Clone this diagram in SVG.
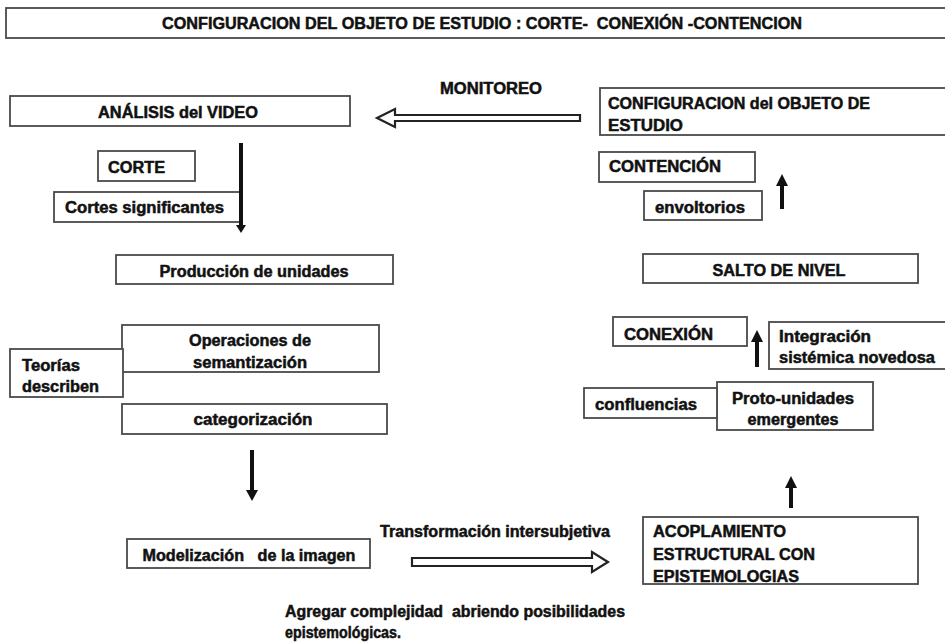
<svg xmlns="http://www.w3.org/2000/svg" width="945" height="644" viewBox="0 0 945 644">
<style>
.b{fill:#fff;stroke:#4a4a4a;stroke-width:1.8}
.t{font-family:"Liberation Sans",Arial,sans-serif;font-weight:bold;font-size:16px;fill:#111;stroke:#111;stroke-width:0.5;white-space:pre}
.c{text-anchor:middle}
.ln{stroke:#111;stroke-width:4;fill:none}
.h{fill:#111;stroke:none}
.ha{fill:#fff;stroke:#222;stroke-width:2.2;stroke-linejoin:miter}
</style>
<rect width="945" height="644" fill="#fff"/>
<g id="title">
<rect class="b" x="6" y="8" width="945" height="30"/>
<text class="t c" x="482" y="29" textLength="640" lengthAdjust="spacingAndGlyphs">CONFIGURACION DEL OBJETO DE ESTUDIO : CORTE-  CONEXIÓN -CONTENCION</text>
</g>
<g id="analisis">
<rect class="b" x="10" y="96" width="340" height="30"/>
<text class="t c" x="178" y="118" textLength="160" lengthAdjust="spacingAndGlyphs">ANÁLISIS del VIDEO</text>
</g>
<g id="corte">
<rect class="b" x="98" y="151" width="97" height="30"/>
<text class="t" x="108" y="173" textLength="57" lengthAdjust="spacingAndGlyphs">CORTE</text>
</g>
<g id="cortes">
<rect class="b" x="54" y="192" width="186" height="30"/>
<text class="t" x="65" y="213" textLength="159" lengthAdjust="spacingAndGlyphs">Cortes significantes</text>
</g>
<g id="produccion">
<rect class="b" x="116" y="255" width="277" height="29"/>
<text class="t c" x="254" y="277" textLength="189" lengthAdjust="spacingAndGlyphs">Producción de unidades</text>
</g>
<g id="operaciones">
<rect class="b" x="122" y="325" width="257" height="47"/>
<text class="t c" x="250" y="346" textLength="122" lengthAdjust="spacingAndGlyphs">Operaciones de</text>
<text class="t c" x="250" y="368" textLength="114" lengthAdjust="spacingAndGlyphs">semantización</text>
</g>
<g id="teorias">
<rect class="b" x="10" y="349" width="113" height="48"/>
<text class="t" x="22" y="371" textLength="58" lengthAdjust="spacingAndGlyphs">Teorías</text>
<text class="t" x="22" y="392" textLength="77" lengthAdjust="spacingAndGlyphs">describen</text>
</g>
<g id="categorizacion">
<rect class="b" x="122" y="404" width="265" height="30"/>
<text class="t c" x="253" y="425" textLength="119" lengthAdjust="spacingAndGlyphs">categorización</text>
</g>
<g id="modelizacion">
<rect class="b" x="127" y="539" width="243" height="29"/>
<text class="t c" x="249" y="561" textLength="213" lengthAdjust="spacingAndGlyphs">Modelización   de la imagen</text>
</g>
<g id="acoplamiento">
<rect class="b" x="643" y="517" width="275" height="67"/>
<text class="t" x="653" y="537" textLength="133" lengthAdjust="spacingAndGlyphs">ACOPLAMIENTO</text>
<text class="t" x="653" y="560" textLength="162" lengthAdjust="spacingAndGlyphs">ESTRUCTURAL CON</text>
<text class="t" x="653" y="582" textLength="146" lengthAdjust="spacingAndGlyphs">EPISTEMOLOGIAS</text>
</g>
<g id="proto">
<rect class="b" x="717" y="382" width="156" height="48"/>
<text class="t c" x="793" y="404" textLength="122" lengthAdjust="spacingAndGlyphs">Proto-unidades</text>
<text class="t c" x="793" y="425" textLength="91" lengthAdjust="spacingAndGlyphs">emergentes</text>
</g>
<g id="confluencias">
<rect class="b" x="584" y="388" width="133" height="30"/>
<text class="t" x="595" y="410" textLength="102" lengthAdjust="spacingAndGlyphs">confluencias</text>
</g>
<g id="conexion">
<rect class="b" x="613" y="317" width="134" height="29"/>
<text class="t" x="624" y="340" textLength="89" lengthAdjust="spacingAndGlyphs">CONEXIÓN</text>
</g>
<g id="integracion">
<rect class="b" x="769" y="322" width="190" height="47"/>
<text class="t" x="779" y="342" textLength="92" lengthAdjust="spacingAndGlyphs">Integración</text>
<text class="t" x="779" y="363" textLength="156" lengthAdjust="spacingAndGlyphs">sistémica novedosa</text>
</g>
<g id="salto">
<rect class="b" x="643" y="254" width="275" height="29"/>
<text class="t c" x="779" y="276" textLength="133" lengthAdjust="spacingAndGlyphs">SALTO DE NIVEL</text>
</g>
<g id="contencion">
<rect class="b" x="599" y="152" width="156" height="30"/>
<text class="t" x="609" y="172" textLength="112" lengthAdjust="spacingAndGlyphs">CONTENCIÓN</text>
</g>
<g id="envoltorios">
<rect class="b" x="644" y="191" width="118" height="29"/>
<text class="t" x="655" y="213" textLength="90" lengthAdjust="spacingAndGlyphs">envoltorios</text>
</g>
<g id="configuracion">
<rect class="b" x="600" y="88" width="360" height="47"/>
<text class="t" x="608" y="109" textLength="262" lengthAdjust="spacingAndGlyphs">CONFIGURACION del OBJETO DE</text>
<text class="t" x="608" y="131" textLength="75" lengthAdjust="spacingAndGlyphs">ESTUDIO</text>
</g>
<g id="labels">
<text class="t" x="440" y="94" textLength="102" lengthAdjust="spacingAndGlyphs">MONITOREO</text>
<text class="t" x="380" y="537" textLength="230" lengthAdjust="spacingAndGlyphs">Transformación intersubjetiva</text>
<text class="t" x="285" y="617" textLength="340" lengthAdjust="spacingAndGlyphs">Agregar complejidad  abriendo posibilidades</text>
<text class="t" x="285" y="638" textLength="116" lengthAdjust="spacingAndGlyphs">epistemológicas.</text>
</g>
<g id="connectors">
<path class="ha" d="M580,115 L395,115 L395,109 L377,118 L395,127 L395,121 L580,121 Z"/>
<path class="ha" d="M412,558 L592,558 L592,552 L608,562 L592,572 L592,566 L412,566 Z"/>
<line class="ln" x1="241" y1="143" x2="241" y2="226"/>
<path class="h" d="M236,225 L246,225 L241,233 Z"/>
<line class="ln" x1="252" y1="450" x2="252" y2="492"/>
<path class="h" d="M246,490 L258,490 L252,501 Z"/>
<line class="ln" x1="791" y1="486" x2="791" y2="508"/>
<path class="h" d="M785,488 L797,488 L791,476 Z"/>
<line class="ln" x1="757" y1="340" x2="757" y2="367"/>
<path class="h" d="M751,342 L763,342 L757,330 Z"/>
<line class="ln" x1="782" y1="184" x2="782" y2="209"/>
<path class="h" d="M776,186 L788,186 L782,174 Z"/>
</g>
</svg>
